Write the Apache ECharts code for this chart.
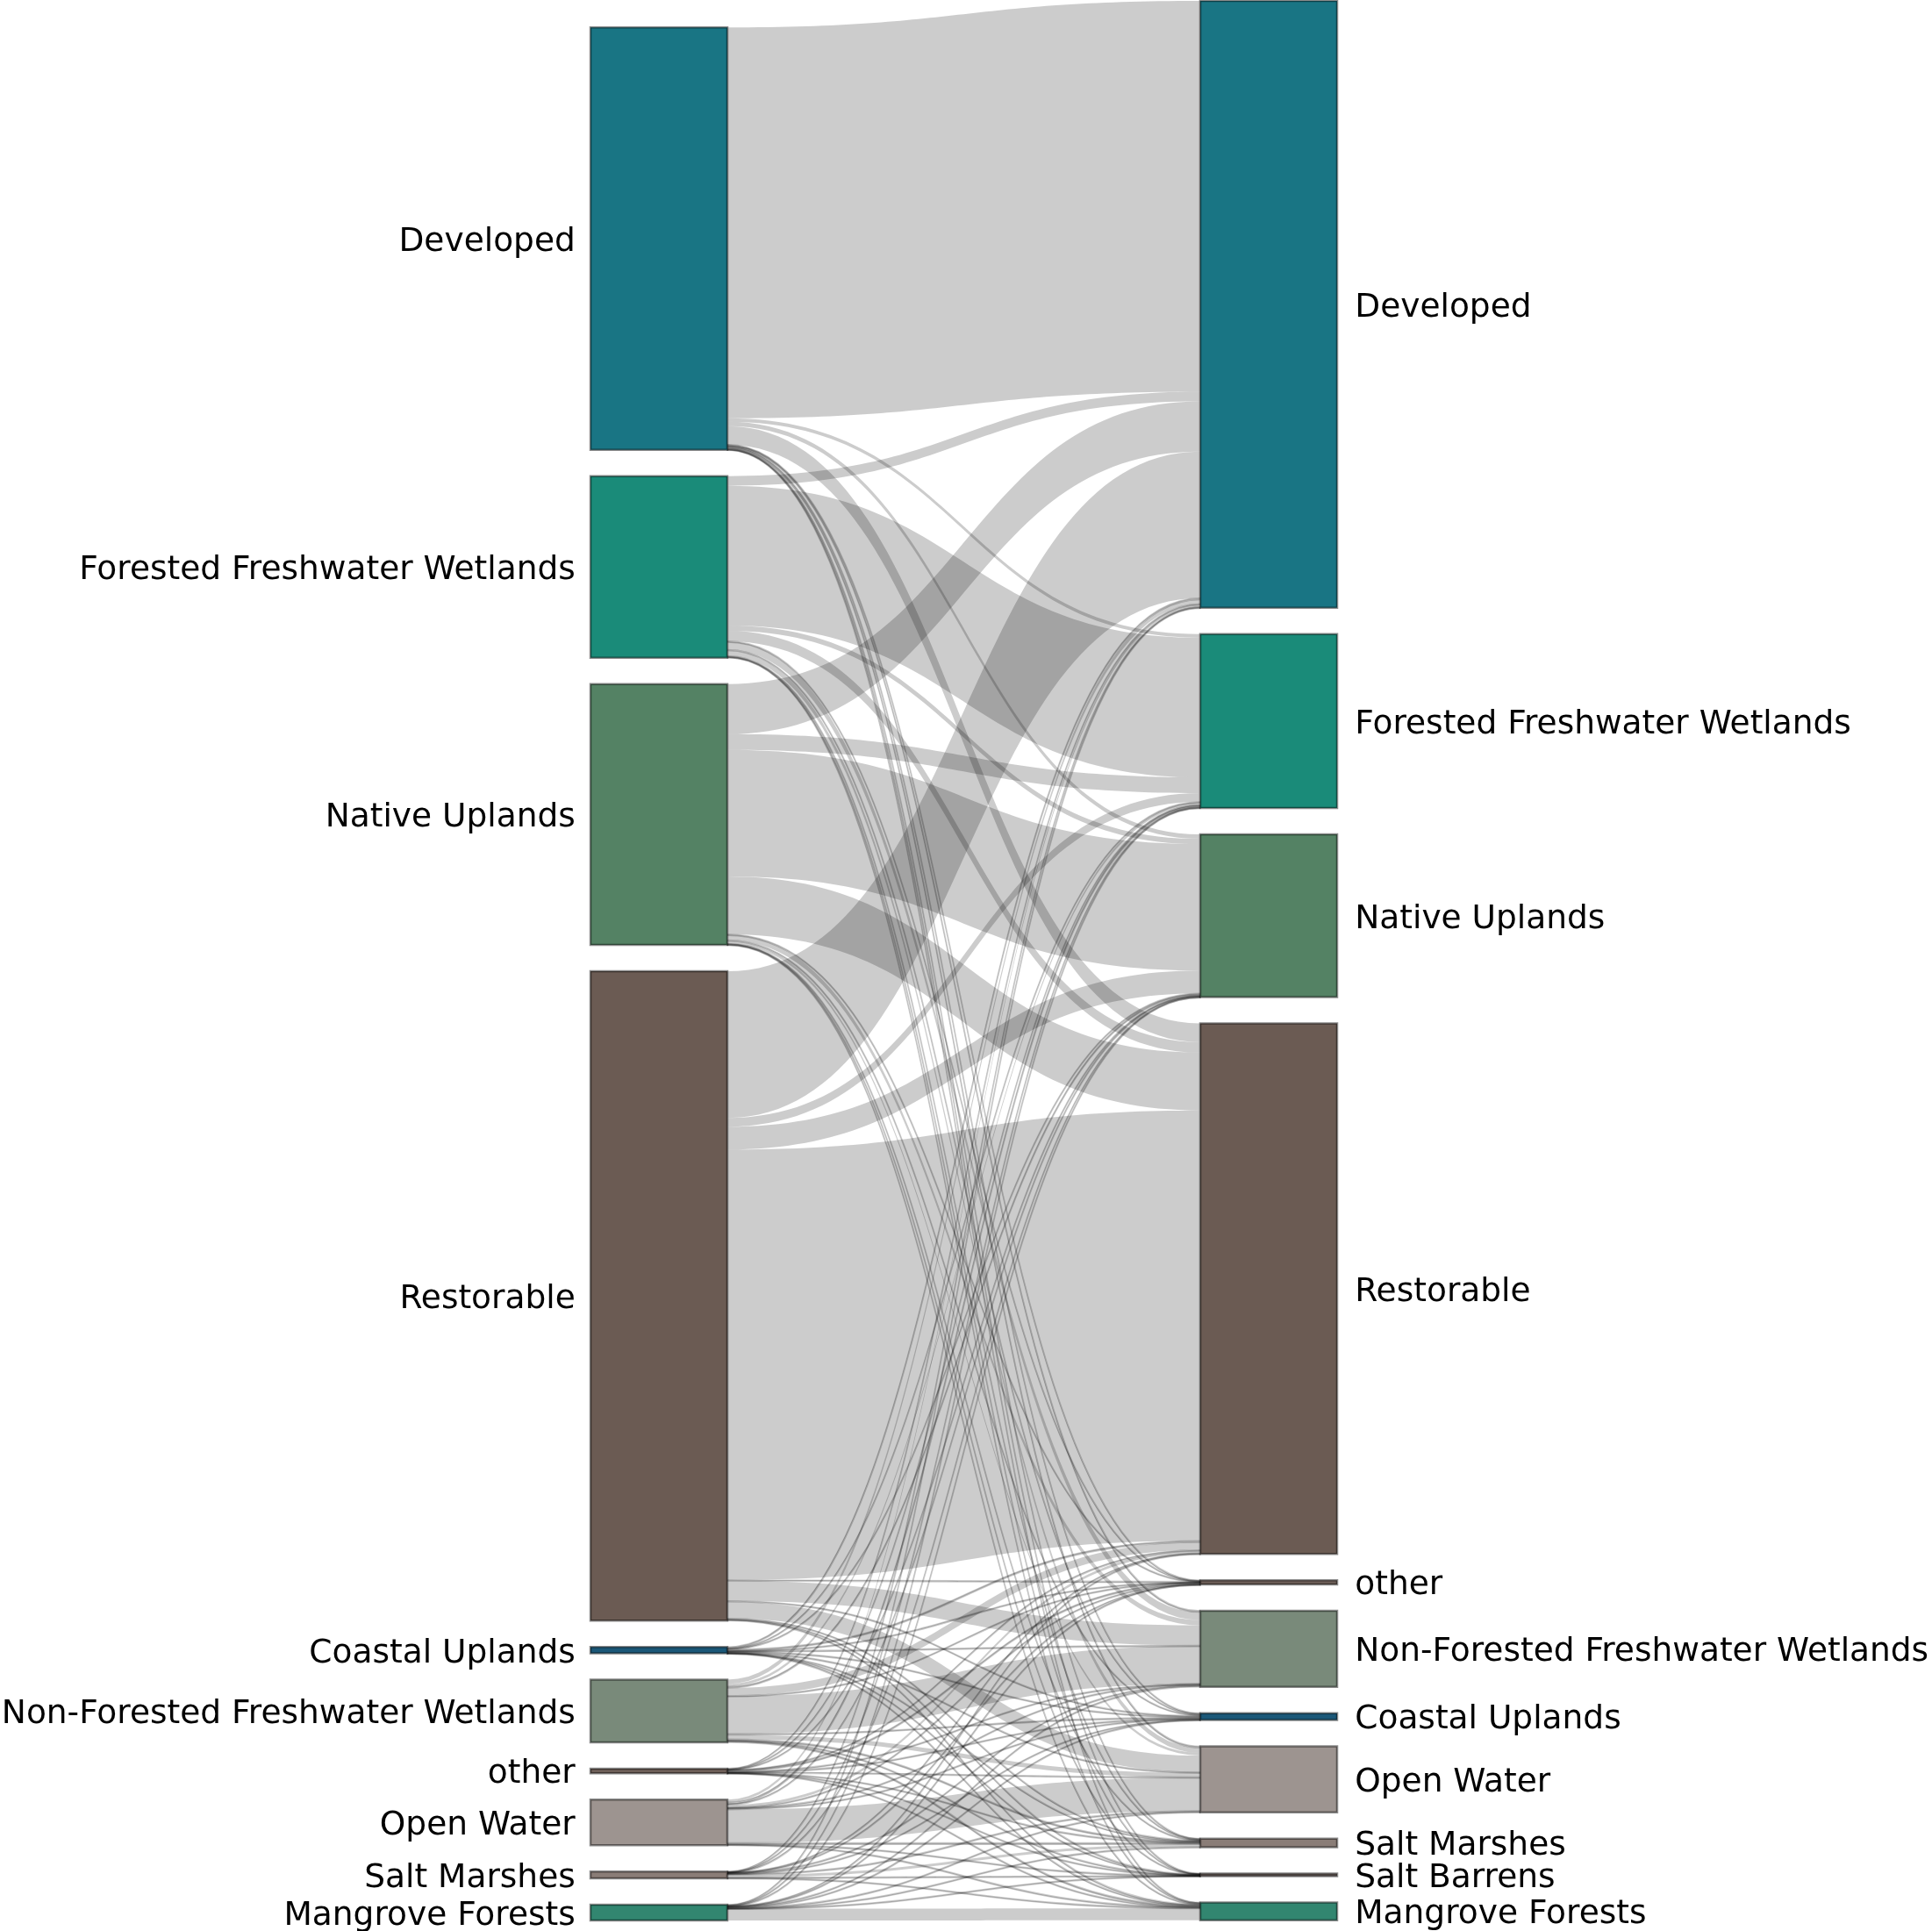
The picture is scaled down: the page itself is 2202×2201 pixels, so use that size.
<!DOCTYPE html>
<html>
<head>
<meta charset="utf-8">
<script src="https://cdn.jsdelivr.net/npm/echarts@6/dist/echarts.min.js"></script>
<style>
html, body { margin: 0; padding: 0; background: #ffffff; }
#chart { width: 2202px; height: 2201px; }
</style>
</head>
<body>
<div id="chart"></div>
<script>
// ---- DATA ----
const sourceClasses = ['Developed', 'Forested Freshwater Wetlands', 'Native Uplands', 'Restorable',
  'Coastal Uplands', 'Non-Forested Freshwater Wetlands', 'other', 'Open Water', 'Salt Marshes', 'Mangrove Forests'];
const targetClasses = ['Developed', 'Forested Freshwater Wetlands', 'Native Uplands', 'Restorable',
  'other', 'Non-Forested Freshwater Wetlands', 'Coastal Uplands', 'Open Water', 'Salt Marshes', 'Salt Barrens', 'Mangrove Forests'];

// flows from each source class, in targetClasses order
const fromDeveloped   = [445, 4, 5, 21, 0.5, 1.5, 1, 1.5, 0.5, 0.3, 0.5];
const fromForested    = [11, 159, 6, 12, 0.5, 9, 1, 6, 1, 0.3, 1];
const fromNative      = [57, 18, 144, 66, 0.5, 6, 1, 3, 0.5, 0.3, 0.7];
const fromRestorable  = [167, 10, 26, 490, 0.7, 23, 1, 19, 1, 0.5, 1];
const fromCoastal     = [1.5, 0.5, 1, 1.5, 0.2, 0.5, 1, 0.5, 0.2, 0.1, 0.3];
const fromNonForested = [5, 3, 1.5, 9, 0.3, 43, 1, 5, 1.5, 0.5, 1.5];
const fromOther       = [0.5, 0.5, 0.3, 0.5, 1.5, 0.5, 0.3, 0.5, 0.3, 0.2, 0.3];
const fromOpenWater   = [3, 2, 1, 3, 0.3, 1, 1, 38, 1.5, 0.3, 0.7];
const fromSaltMarsh   = [0.5, 0.3, 0.2, 0.5, 0.1, 1, 0.3, 1, 3, 0.3, 0.7];
const fromMangrove    = [0.5, 0.7, 0.3, 0.5, 0.1, 1, 0.3, 0.5, 0.3, 0.2, 13.5];

const flowRows = [fromDeveloped, fromForested, fromNative, fromRestorable, fromCoastal,
  fromNonForested, fromOther, fromOpenWater, fromSaltMarsh, fromMangrove];

// ---- STYLE ----
const classColors = {
  'Developed': '#197584',
  'Forested Freshwater Wetlands': '#1a8b79',
  'Native Uplands': '#548264',
  'Restorable': '#6b5b53',
  'Coastal Uplands': '#1b5878',
  'Non-Forested Freshwater Wetlands': '#798a7a',
  'other': '#6e5f58',
  'Open Water': '#9d9490',
  'Salt Marshes': '#8a7d77',
  'Salt Barrens': '#6b605c',
  'Mangrove Forests': '#328670'
};

const SEP = '\u200b|';
const nodes = [];
// Layout padding only (not drawn): the source column in the original is bottom-aligned,
// this invisible, unlinked node pushes it down by one node gap.
nodes.push({
  name: 'pad' + SEP,
  depth: 0,
  value: 0.3,
  itemStyle: { color: 'rgba(0,0,0,0)', borderWidth: 0 },
  label: { show: false },
  silent: true
});
sourceClasses.forEach(function (c) {
  nodes.push({
    name: 'A' + SEP + c,
    depth: 0,
    itemStyle: { color: classColors[c] },
    label: { position: 'left', distance: 16 }
  });
});
targetClasses.forEach(function (c) {
  nodes.push({
    name: 'B' + SEP + c,
    depth: 1,
    itemStyle: { color: classColors[c] },
    label: { position: 'right', distance: 19 }
  });
});

const links = [];
sourceClasses.forEach(function (s, i) {
  targetClasses.forEach(function (t, j) {
    const v = flowRows[i][j];
    if (v > 0) {
      const link = { source: 'A' + SEP + s, target: 'B' + SEP + t, value: v };
      if (v < 3) {
        // hairline flows get an outline so they stay visible, as in the original
        link.lineStyle = { borderColor: '#000000', borderWidth: 1.6 };
      }
      links.push(link);
    }
  });
});

const chart = echarts.init(document.getElementById('chart'), null, { renderer: 'canvas' });
chart.setOption({
  animation: false,
  backgroundColor: '#ffffff',
  series: [{
    type: 'sankey',
    left: 673,
    top: 1,
    width: 851,
    height: 2188,
    nodeWidth: 156,
    nodeGap: 30,
    layoutIterations: 0,
    draggable: false,
    emphasis: { disabled: true },
    itemStyle: { borderColor: 'rgba(0,0,0,0.45)', borderWidth: 2.5 },
    lineStyle: { color: '#000000', opacity: 0.2, curveness: 0.5 },
    label: {
      fontFamily: 'DejaVu Sans',
      fontSize: 37.5,
      color: '#000000',
      offset: [0, 4],
      formatter: function (p) { return p.name.split(SEP)[1] || ''; }
    },
    data: nodes,
    links: links
  }]
});
</script>
</body>
</html>
